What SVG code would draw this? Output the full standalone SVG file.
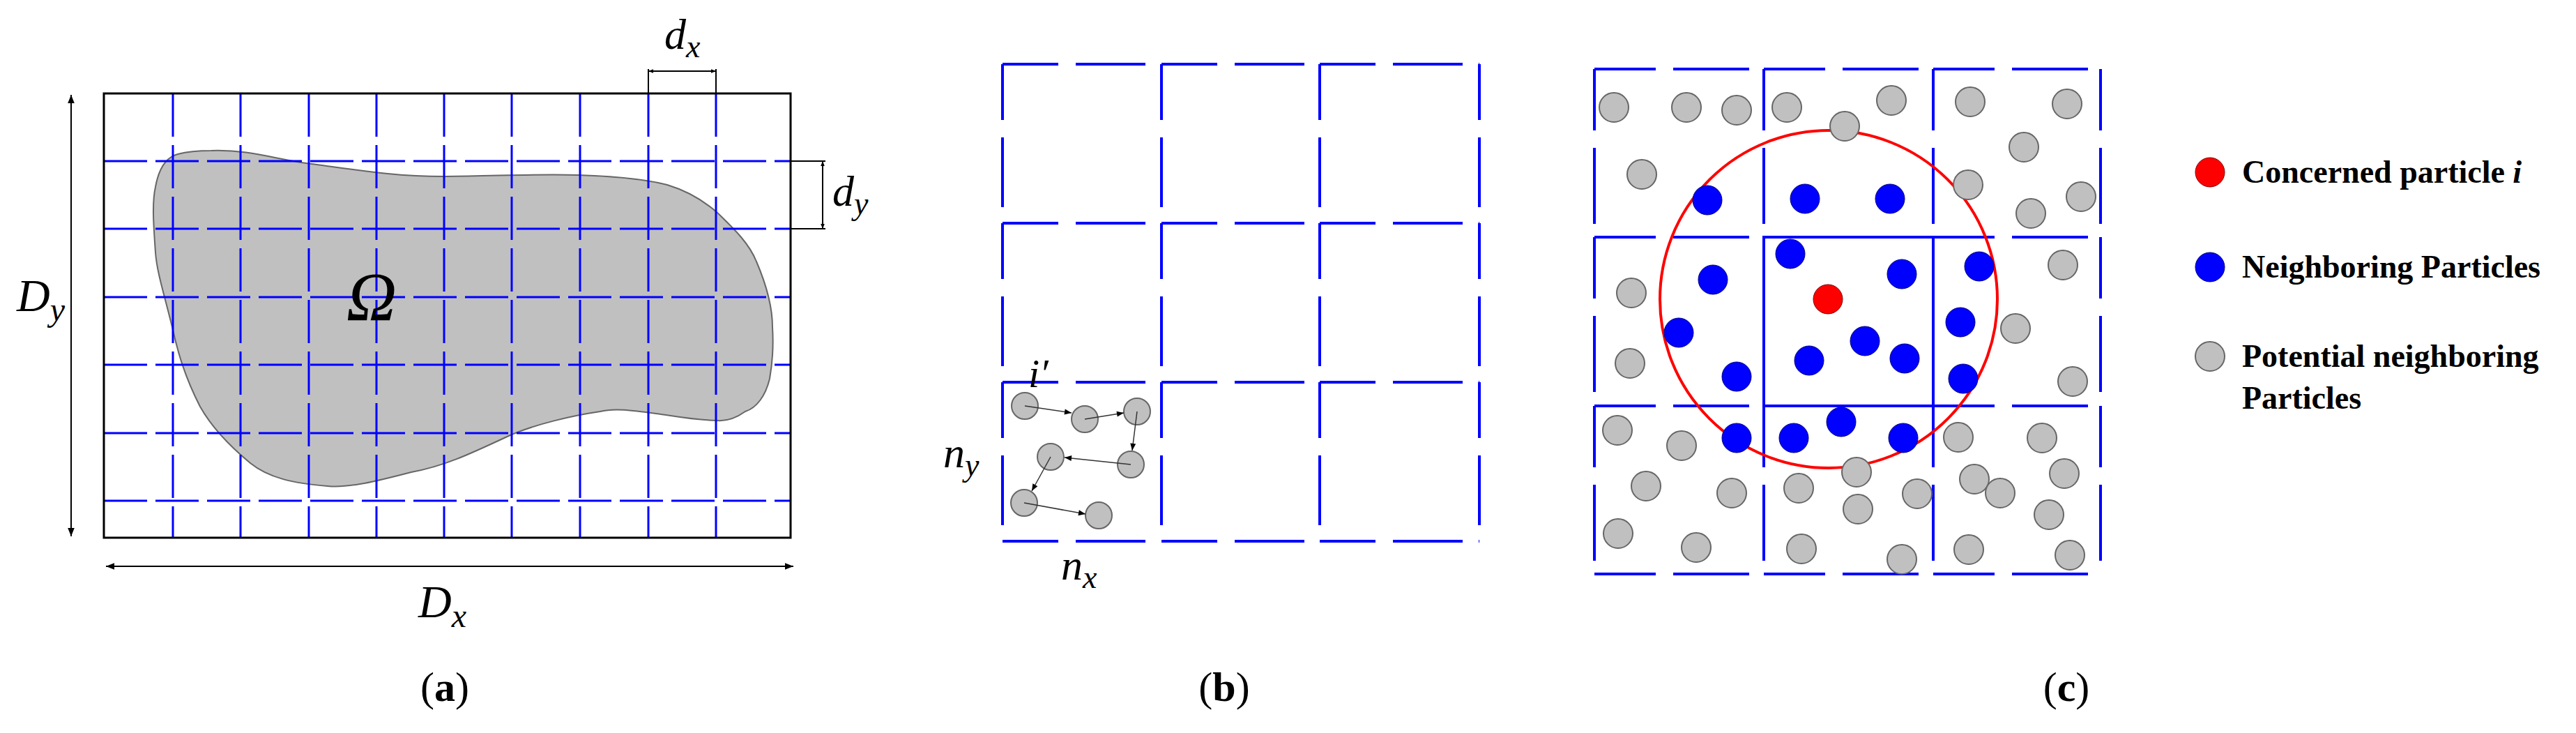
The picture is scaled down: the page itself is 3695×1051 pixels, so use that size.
<svg xmlns="http://www.w3.org/2000/svg" width="3695" height="1051" viewBox="0 0 3695 1051">
<defs>
<marker id="ah" viewBox="0 0 10 10" refX="10" refY="5" markerWidth="7" markerHeight="7" markerUnits="userSpaceOnUse" orient="auto-start-reverse"><path d="M0,1 L10,5 L0,9 z" fill="#000"/></marker>
<marker id="as" viewBox="0 0 10 10" refX="10" refY="5" markerWidth="14" markerHeight="10" markerUnits="userSpaceOnUse" orient="auto-start-reverse"><path d="M0,1 L10,5 L0,9 z" fill="#000"/></marker>
<marker id="am" viewBox="0 0 10 10" refX="10" refY="5" markerWidth="16" markerHeight="12" markerUnits="userSpaceOnUse" orient="auto-start-reverse"><path d="M0,1 L10,5 L0,9 z" fill="#000"/></marker>
</defs>
<style>
.grid{stroke:#0000ff;stroke-width:3;fill:none;stroke-dasharray:62 12}
.cell{stroke:#0000ff;stroke-width:4;fill:none}
.gp{fill:#c0c0c0;stroke:#666;stroke-width:2}
.bp{fill:#0000ff;stroke:#000080;stroke-width:1}
.m{font-family:"Liberation Serif",serif;font-style:italic;fill:#000}
.cap{font-family:"Liberation Serif",serif;font-size:60px;fill:#000}
.leg{font-family:"Liberation Serif",serif;font-weight:bold;font-size:46px;fill:#000}
.ln{stroke:#000;stroke-width:2;fill:none}
</style>
<rect width="3695" height="1051" fill="#fff"/>
<g id="panel-a">
<path d="M303,216 C360,214 400,230 447,235 C520,245 570,253 638,253 C720,252 780,249 829,251 C890,253 930,258 957,265 C990,275 1012,290 1029,305 C1055,330 1075,350 1085,375 C1100,410 1108,440 1108,469 C1110,500 1108,520 1104,543 C1098,568 1085,585 1069,590 C1055,600 1042,604 1029,603 C990,602 965,596 941,593 C905,588 880,585 861,590 C820,596 770,608 734,623 C680,648 640,668 590,677 C540,690 500,700 470,697 C420,693 385,685 359,664 C330,640 305,615 287,583 C265,540 255,505 247,469 C235,420 225,390 223,362 C220,320 218,290 223,268 C228,240 240,225 255,221 C270,217 285,216 303,216 Z" fill="#c0c0c0" stroke="#666" stroke-width="2"/>
<g class="grid">
<path d="M248,134V771M345,134V771M443,134V771M540,134V771M637,134V771M734,134V771M832,134V771M930,134V771M1027,134V771"/>
<path d="M149,231H1134M149,328H1134M149,426H1134M149,523H1134M149,621H1134M149,718H1134"/>
</g>
<rect x="149" y="134" width="985" height="637" fill="none" stroke="#000" stroke-width="3"/>
<line class="ln" x1="152" y1="812" x2="1138" y2="812" marker-start="url(#am)" marker-end="url(#am)"/>
<line class="ln" x1="102" y1="136" x2="102" y2="769" marker-start="url(#am)" marker-end="url(#am)"/>
<path class="ln" d="M930,99V134M1027,99V134" stroke="#777"/>
<line class="ln" x1="930" y1="102" x2="1027" y2="102" marker-start="url(#ah)" marker-end="url(#ah)"/>
<path class="ln" d="M1134,231H1184M1134,328H1184" stroke="#777"/>
<line class="ln" x1="1180" y1="231" x2="1180" y2="328" marker-start="url(#ah)" marker-end="url(#ah)"/>
<text class="m" x="953" y="70" font-size="62">d<tspan font-size="46" dy="12">x</tspan></text>
<text class="m" x="1194" y="295" font-size="62">d<tspan font-size="46" dy="12">y</tspan></text>
<text class="m" x="24" y="446" font-size="66">D<tspan font-size="48" dy="14">y</tspan></text>
<text class="m" x="600" y="885" font-size="66">D<tspan font-size="48" dy="14">x</tspan></text>
<text class="m" x="533" y="459" font-size="100" text-anchor="middle">Ω</text>
<text class="cap" x="638" y="1005" text-anchor="middle">(<tspan font-weight="bold">a</tspan>)</text>
</g>
<g id="panel-b">
<path class="cell" stroke-dasharray="80 25 100 23" d="M1438,92h228M1666,92h227M1893,92h229M1438,320h228M1666,320h227M1893,320h229M1438,548h228M1666,548h227M1893,548h229M1438,776h228M1666,776h227M1893,776h229M1438,92v228M1438,320v228M1438,548v228M1666,92v228M1666,320v228M1666,548v228M1893,92v228M1893,320v228M1893,548v228M2122,92v228M2122,320v228M2122,548v228"/>
<g class="gp">
<circle cx="1470" cy="582" r="19"/><circle cx="1556" cy="601" r="19"/><circle cx="1631" cy="590" r="19"/><circle cx="1622" cy="666" r="19"/><circle cx="1507" cy="655" r="19"/><circle cx="1469" cy="721" r="19"/><circle cx="1576" cy="739" r="19"/>
</g>
<g stroke="#333" stroke-width="1.5" fill="none">
<line x1="1470" y1="582" x2="1537" y2="592" marker-end="url(#as)"/>
<line x1="1556" y1="601" x2="1612" y2="592" marker-end="url(#as)"/>
<line x1="1631" y1="590" x2="1624" y2="646" marker-end="url(#as)"/>
<line x1="1622" y1="666" x2="1527" y2="656" marker-end="url(#as)"/>
<line x1="1507" y1="655" x2="1480" y2="704" marker-end="url(#as)"/>
<line x1="1469" y1="721" x2="1557" y2="737" marker-end="url(#as)"/>
</g>
<text class="m" x="1475" y="555" font-size="58">i′</text>
<text class="m" x="1353" y="670" font-size="62">n<tspan font-size="46" dy="12">y</tspan></text>
<text class="m" x="1522" y="831" font-size="62">n<tspan font-size="46" dy="12">x</tspan></text>
<text class="cap" x="1756" y="1005" text-anchor="middle">(<tspan font-weight="bold">b</tspan>)</text>
</g>
<g id="panel-c">
<path class="cell" stroke-dasharray="88 25 109 21" d="M2287,99h243M2530,99h243M2773,99h240M2287,340h243M2530,340h243M2773,340h240M2287,582h243M2530,582h243M2773,582h240M2287,823h243M2530,823h243M2773,823h240M2287,99v241M2287,340v242M2287,582v241M2530,99v241M2530,340v242M2530,582v241M2773,99v241M2773,340v242M2773,582v241M3013,99v241M3013,340v242M3013,582v241"/>
<path class="cell" d="M2530,340H2773V582H2530Z"/>
<circle cx="2623" cy="429" r="242" fill="none" stroke="#ff0000" stroke-width="4"/>
<g class="gp">
<circle cx="2315" cy="154" r="21"/><circle cx="2419" cy="154" r="21"/><circle cx="2491" cy="158" r="21"/><circle cx="2563" cy="154" r="21"/><circle cx="2713" cy="144" r="21"/><circle cx="2646" cy="181" r="21"/><circle cx="2826" cy="146" r="21"/><circle cx="2965" cy="149" r="21"/><circle cx="2355" cy="250" r="21"/><circle cx="2903" cy="211" r="21"/><circle cx="2823" cy="265" r="21"/><circle cx="2985" cy="282" r="21"/><circle cx="2913" cy="306" r="21"/><circle cx="2340" cy="420" r="21"/><circle cx="2959" cy="380" r="21"/><circle cx="2338" cy="521" r="21"/><circle cx="2891" cy="471" r="21"/><circle cx="2973" cy="547" r="21"/><circle cx="2320" cy="617" r="21"/><circle cx="2412" cy="639" r="21"/><circle cx="2361" cy="697" r="21"/><circle cx="2484" cy="707" r="21"/><circle cx="2321" cy="765" r="21"/><circle cx="2433" cy="785" r="21"/><circle cx="2580" cy="700" r="21"/><circle cx="2663" cy="677" r="21"/><circle cx="2750" cy="708" r="21"/><circle cx="2665" cy="730" r="21"/><circle cx="2584" cy="787" r="21"/><circle cx="2728" cy="802" r="21"/><circle cx="2809" cy="627" r="21"/><circle cx="2929" cy="628" r="21"/><circle cx="2832" cy="687" r="21"/><circle cx="2869" cy="707" r="21"/><circle cx="2961" cy="679" r="21"/><circle cx="2939" cy="738" r="21"/><circle cx="2824" cy="788" r="21"/><circle cx="2969" cy="796" r="21"/>
</g>
<g class="bp">
<circle cx="2449" cy="287" r="21"/><circle cx="2589" cy="285" r="21"/><circle cx="2711" cy="285" r="21"/><circle cx="2568" cy="364" r="21"/><circle cx="2728" cy="393" r="21"/><circle cx="2839" cy="382" r="21"/><circle cx="2457" cy="401" r="21"/><circle cx="2408" cy="477" r="21"/><circle cx="2675" cy="489" r="21"/><circle cx="2812" cy="462" r="21"/><circle cx="2595" cy="517" r="21"/><circle cx="2732" cy="514" r="21"/><circle cx="2491" cy="540" r="21"/><circle cx="2816" cy="543" r="21"/><circle cx="2641" cy="605" r="21"/><circle cx="2491" cy="628" r="21"/><circle cx="2573" cy="628" r="21"/><circle cx="2730" cy="628" r="21"/>
</g>
<circle cx="2622" cy="429" r="21" fill="#ff0000" stroke="#800000" stroke-width="1"/>
<g id="legend">
<circle cx="3170" cy="247" r="21" fill="#ff0000" stroke="#800000" stroke-width="1"/>
<circle cx="3170" cy="383" r="21" class="bp"/>
<circle cx="3170" cy="511" r="21" class="gp"/>
<text class="leg" x="3216" y="262">Concerned particle <tspan font-style="italic">i</tspan></text>
<text class="leg" x="3216" y="398">Neighboring Particles</text>
<text class="leg" x="3216" y="526">Potential neighboring</text>
<text class="leg" x="3216" y="586">Particles</text>
</g>
<text class="cap" x="2964" y="1005" text-anchor="middle">(<tspan font-weight="bold">c</tspan>)</text>
</g>
</svg>
